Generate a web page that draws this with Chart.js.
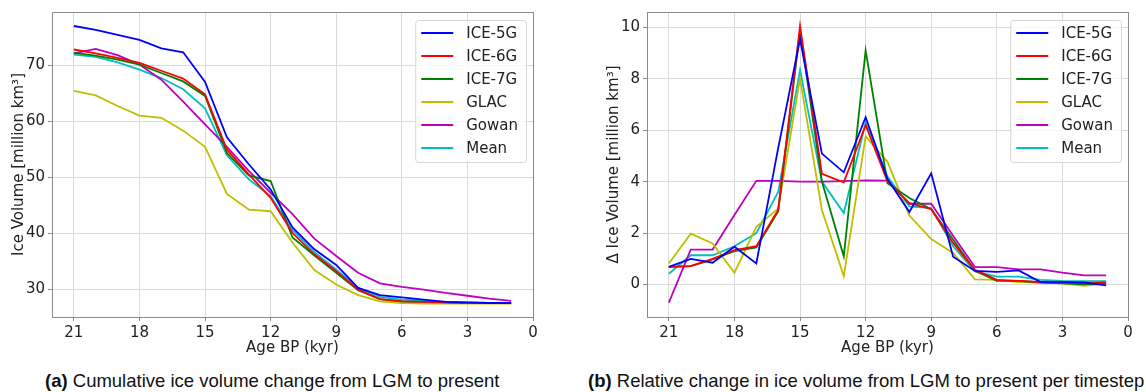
<!DOCTYPE html>
<html>
<head>
<meta charset="utf-8">
<script src="https://cdn.jsdelivr.net/npm/chart.js@4/dist/chart.umd.min.js"></script>
<style>
  body { margin: 0; background: #fff; width: 1146px; height: 392px; overflow: hidden; position: relative; }
  canvas { position: absolute; top: 0; }
  #chartA { left: 0; }
  #chartB { left: 595px; }
  .caption { position: absolute; top: 370px; font-family: "Liberation Sans", Arial, sans-serif; font-size: 18.5px; color: #111; white-space: nowrap; }
  .caption b { font-weight: bold; }
</style>
</head>
<body>
<canvas id="chartA" width="560" height="365"></canvas>
<canvas id="chartB" width="551" height="365"></canvas>
<div class="caption" style="left:45px"><b>(a)</b> Cumulative ice volume change from LGM to present</div>
<div class="caption" style="left:588px"><b>(b)</b> Relative change in ice volume from LGM to present per timestep</div>

<script>
const ages = [21, 20, 19, 18, 17, 16, 15, 14, 13, 12, 11, 10, 9, 8, 7, 6, 5, 4, 3, 2, 1];
const ageTicks = [21, 18, 15, 12, 9, 6, 3, 0];

const seriesNames = ["ICE-5G", "ICE-6G", "ICE-7G", "GLAC", "Gowan", "Mean"];
const seriesColors = ["#0000ff", "#ff0000", "#008000", "#bfbf00", "#bf00bf", "#00bfbf"];

// (a) cumulative ice volume, million km3
const cumIce5G  = [77.0, 76.3, 75.4, 74.5, 73.0, 72.3, 67.0, 57.1, 52.3, 47.8, 41.0, 37.1, 34.3, 30.2, 28.9, 28.5, 28.1, 27.7, 27.6, 27.5, 27.5];
const cumIce6G  = [72.8, 72.1, 71.3, 70.4, 69.0, 67.6, 64.8, 54.9, 50.5, 46.3, 40.0, 36.2, 33.2, 29.9, 28.2, 27.8, 27.7, 27.6, 27.5, 27.5, 27.5];
const cumIce7G  = [72.2, 71.7, 71.0, 70.1, 68.6, 67.1, 64.5, 54.3, 50.3, 49.3, 39.2, 36.0, 32.9, 29.8, 28.2, 27.8, 27.7, 27.6, 27.5, 27.5, 27.5];
const cumGlac   = [65.4, 64.6, 62.7, 61.0, 60.6, 58.3, 55.4, 47.0, 44.2, 43.9, 38.3, 33.4, 30.8, 28.9, 27.8, 27.5, 27.4, 27.4, 27.4, 27.4, 27.4];
const cumGowan  = [72.1, 72.9, 71.8, 70.1, 67.4, 63.5, 59.4, 55.4, 51.1, 47.2, 43.4, 39.0, 35.9, 32.9, 31.0, 30.4, 29.9, 29.3, 28.8, 28.3, 27.9];
const cumMean   = [71.9, 71.5, 70.5, 69.2, 67.7, 65.7, 62.3, 53.9, 49.6, 46.6, 40.5, 36.6, 33.5, 30.2, 28.6, 28.1, 27.9, 27.7, 27.6, 27.5, 27.5];
const cumTicks  = [30, 40, 50, 60, 70];

// (b) change per timestep, million km3
const dIce5G  = [0.69, 1.0, 0.85, 1.47, 0.82, 5.3, 9.53, 5.09, 4.36, 6.5, 4.1, 2.82, 4.32, 1.08, 0.53, 0.49, 0.55, 0.1, 0.1, 0.08, -0.03];
const dIce6G  = [0.69, 0.72, 1.0, 1.34, 1.49, 2.9, 10.04, 4.3, 3.97, 6.19, 4.0, 3.16, 2.93, 1.62, 0.57, 0.18, 0.14, 0.1, 0.08, 0.05, 0.08];
const dIce7G  = [0.69, 0.72, 0.98, 1.3, 1.44, 2.84, 9.88, 4.0, 1.1, 9.1, 3.94, 3.36, 2.93, 1.75, 0.54, 0.14, 0.14, 0.08, 0.05, 0.01, 0.05];
const dGlac   = [0.82, 1.98, 1.6, 0.46, 2.24, 2.95, 8.0, 2.9, 0.33, 5.76, 4.77, 2.68, 1.77, 1.23, 0.2, 0.18, 0.1, 0.08, 0.05, -0.05, 0.05];
const dGowan  = [-0.7, 1.36, 1.36, 2.7, 4.03, 4.03, 4.0, 4.0, 4.02, 4.05, 4.04, 3.14, 3.14, 1.9, 0.68, 0.68, 0.59, 0.59, 0.46, 0.36, 0.36];
const dMean   = [0.42, 1.14, 1.14, 1.49, 2.0, 3.6, 8.33, 4.0, 2.78, 6.3, 4.2, 3.04, 2.97, 1.49, 0.51, 0.31, 0.31, 0.18, 0.14, 0.13, 0.13];
const dTicks  = [0, 2, 4, 6, 8, 10];

Chart.defaults.font.family = '"DejaVu Sans", sans-serif';
Chart.defaults.font.size = 15;
Chart.defaults.color = '#222';

// legend box drawn inside the plot, upper right
const boxLegend = {
    id: 'boxLegend',
    afterDatasetsDraw(chart) {
        const ctx = chart.ctx;
        const area = chart.chartArea;
        const sets = chart.data.datasets;
        ctx.save();
        ctx.font = '15px "DejaVu Sans"';
        const textW = Math.max(...sets.map(d => ctx.measureText(d.label).width));
        const w = 51 + textW + 8;
        const h = 142;
        const x = area.right - 7 - w;
        const y = area.top + 8;
        ctx.beginPath();
        ctx.roundRect(x + 0.5, y + 0.5, w, h, 3);
        ctx.fillStyle = 'rgba(255,255,255,0.8)';
        ctx.fill();
        ctx.strokeStyle = '#d6d6d6';
        ctx.lineWidth = 1;
        ctx.stroke();
        sets.forEach((d, i) => {
            const cy = y + 13 + i * 23;
            ctx.strokeStyle = d.borderColor;
            ctx.lineWidth = 2;
            ctx.beginPath();
            ctx.moveTo(x + 6, cy);
            ctx.lineTo(x + 38, cy);
            ctx.stroke();
            ctx.fillStyle = '#222';
            ctx.textBaseline = 'middle';
            ctx.fillText(d.label, x + 51, cy + 1);
        });
        ctx.restore();
    }
};

// full frame round the plot area
const frame = {
    id: 'frame',
    afterDatasetsDraw(chart) {
        const ctx = chart.ctx;
        const a = chart.chartArea;
        ctx.save();
        ctx.strokeStyle = '#8a8a8a';
        ctx.lineWidth = 1;
        ctx.strokeRect(Math.round(a.left) + 0.5, Math.round(a.top) + 0.5, Math.round(a.right - a.left), Math.round(a.bottom - a.top));
        ctx.restore();
    }
};

function makeChart(id, values, yMin, yMax, yTicks, yTitle, padRight) {
    const datasets = values.map((vals, i) => ({
        label: seriesNames[i],
        data: ages.map((a, j) => ({ x: a, y: vals[j] })),
        borderColor: seriesColors[i],
        backgroundColor: seriesColors[i],
        borderWidth: 1.8,
        pointRadius: 0,
        tension: 0,
        fill: false
    }));

    return new Chart(document.getElementById(id), {
        type: 'line',
        data: { datasets: datasets },
        options: {
            responsive: false,
            animation: false,
            devicePixelRatio: 1,
            layout: { padding: { top: 11, right: padRight, left: 0, bottom: 0 } },
            plugins: { legend: { display: false }, tooltip: { enabled: false } },
            scales: {
                x: {
                    type: 'linear',
                    min: 0,
                    max: 22,
                    reverse: true,
                    afterBuildTicks: s => { s.ticks = ageTicks.map(v => ({ value: v })); },
                    afterFit: s => { s.height = 48; },
                    grid: { color: '#dadada', tickColor: '#8a8a8a', tickLength: 4 },
                    border: { display: false },
                    ticks: { padding: 3, maxRotation: 0, autoSkip: false },
                    title: { display: true, text: 'Age BP (kyr)', padding: { top: 0, bottom: 8 } }
                },
                y: {
                    type: 'linear',
                    min: yMin,
                    max: yMax,
                    afterBuildTicks: s => { s.ticks = yTicks.map(v => ({ value: v })); },
                    afterFit: s => { s.width = 52; },
                    grid: { color: '#dadada', tickColor: '#8a8a8a', tickLength: 4 },
                    border: { display: false },
                    ticks: { padding: 3, autoSkip: false },
                    title: { display: true, text: yTitle, padding: { top: 10, bottom: 0 } }
                }
            }
        },
        plugins: [frame, boxLegend]
    });
}

makeChart('chartA', [cumIce5G, cumIce6G, cumIce7G, cumGlac, cumGowan, cumMean], 25, 79.5, cumTicks, 'Ice Volume [million km³]', 27);
makeChart('chartB', [dIce5G, dIce6G, dIce7G, dGlac, dGowan, dMean], -1.26, 10.59, dTicks, 'Δ Ice Volume [million km³]', 18);
</script>
</body>
</html>
